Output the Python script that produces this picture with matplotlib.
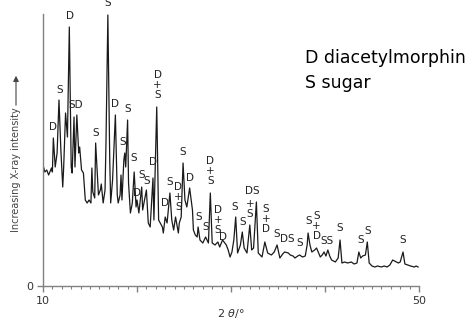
import matplotlib
matplotlib.use("Agg")
import matplotlib.pyplot as plt
from matplotlib.ticker import MultipleLocator, FixedLocator

# 衍射谱（2θ / 相对强度）
two_theta = [10.0, 10.2, 10.4, 10.6, 10.9, 11.0, 11.1, 11.3, 11.5, 11.7, 11.9, 12.1, 12.2, 12.4,
             12.6, 12.8, 13.0, 13.1, 13.3, 13.4, 13.6, 13.8, 13.9, 14.1, 14.3, 14.5, 14.7, 14.9,
             15.1, 15.2, 15.3, 15.5, 15.6, 15.9, 16.1, 16.2, 16.4, 16.6, 16.7, 16.9, 17.1, 17.2,
             17.4, 17.7, 17.9, 18.0, 18.2, 18.3, 18.4, 18.6, 18.7, 18.8, 19.0, 19.1, 19.3, 19.5,
             19.7, 19.9, 20.0, 20.2, 20.5, 20.6, 21.0, 21.2, 21.4, 21.7, 21.8, 22.1, 22.3, 22.7,
             22.8, 23.0, 23.2, 23.5, 23.7, 23.9, 24.1, 24.4, 24.5, 24.7, 24.9, 25.1, 25.3, 25.6,
             25.9, 26.0, 26.2, 26.4, 26.5, 26.7, 27.0, 27.3, 27.6, 27.8, 28.0, 28.3, 28.6, 28.8,
             29.1, 29.5, 29.7, 29.9, 30.1, 30.3, 30.5, 30.7, 31.0, 31.2, 31.4, 31.7, 32.0, 32.2,
             32.4, 32.7, 32.9, 33.1, 33.3, 33.6, 33.9, 34.3, 34.6, 34.9, 35.2, 35.5, 35.7, 36.1,
             36.3, 36.6, 36.8, 37.1, 37.3, 37.6, 37.9, 38.1, 38.2, 38.4, 38.6, 38.9, 39.1, 39.5,
             39.7, 39.9, 40.1, 40.3, 40.5, 40.7, 41.1, 41.4, 41.6, 41.8, 42.1, 42.4, 42.8, 43.1,
             43.4, 43.6, 43.8, 44.0, 44.3, 44.5, 44.7, 45.0, 45.3, 45.6, 46.0, 46.3, 46.6, 46.9,
             47.2, 47.6, 47.8, 48.0, 48.3, 48.5, 48.8, 49.1, 49.5, 49.7, 49.9]
intensity = [121, 114, 116, 111, 118, 114, 148, 119, 133, 186, 136, 99, 119, 173,
             149, 259, 119, 113, 169, 119, 171, 133, 139, 116, 113, 86, 83, 86,
             83, 118, 94, 88, 143, 91, 96, 102, 83, 96, 143, 271, 126, 83,
             106, 171, 91, 83, 91, 111, 86, 126, 133, 119, 166, 103, 73, 83,
             114, 79, 86, 73, 99, 76, 96, 63, 59, 108, 66, 179, 66, 59,
             53, 69, 63, 93, 66, 56, 69, 53, 63, 69, 123, 86, 79, 98,
             76, 56, 51, 49, 59, 46, 43, 49, 43, 93, 43, 41, 44, 39,
             46, 41, 36, 29, 34, 46, 69, 33, 41, 54, 38, 33, 61, 36,
             38, 84, 33, 31, 29, 44, 33, 31, 34, 41, 28, 32, 34, 33,
             31, 30, 28, 30, 31, 29, 30, 41, 53, 41, 34, 36, 38, 29,
             31, 34, 30, 36, 30, 26, 24, 28, 46, 23, 24, 23, 24, 22,
             23, 34, 28, 30, 31, 44, 23, 20, 19, 20, 19, 20, 19, 21,
             26, 24, 23, 24, 34, 22, 21, 20, 19, 20, 19]

# 峰标注 (D = diacetylmorphine, S = sugar)
peak_text = ["D", "S", "D", "SD", "S", "S", "D", "S", "S", "S", "D", "S", "S", "D",
             "D\n+\nS", "D", "S", "D\n+\nS", "S", "D", "S", "S", "D\n+\nS", "D\n+\nS", "D",
             "S", "S", "DS", "+\nS", "S\n+\nD", "S", "DS", "S", "S", "S\n+\nD", "SS", "S",
             "S", "S", "S"]
peak_x = [11.1, 11.8, 12.9, 13.5, 15.6, 16.9, 17.7, 19.0, 18.5, 19.6, 20.0, 20.5, 21.0, 21.7,
          22.2, 23.0, 23.5, 24.4, 24.9, 25.6, 26.6, 27.3, 27.8, 28.6, 29.1,
          30.4, 31.2, 32.3, 32.0, 33.7, 34.9, 36.0, 37.3, 38.3, 39.1, 40.2, 41.6,
          43.8, 44.5, 48.3]
peak_y = [159, 196, 270, 181, 153, 283, 182, 177, 144, 128, 93, 111, 105, 124,
          201, 83, 104, 89, 134, 108, 69, 59, 115, 66, 49,
          79, 64, 95, 77, 67, 52, 47, 43, 65, 60, 45, 58,
          46, 55, 46]

fig = plt.figure(figsize=(4.71, 3.20), dpi=100)
ax = fig.add_axes([43 / 471, 34 / 320, 376 / 471, 272 / 320])

ax.plot(two_theta, intensity, color="#1a1a1a", linewidth=0.9)

for t, x, y in zip(peak_text, peak_x, peak_y):
    ax.text(x, y, t, ha="center", va="center", fontsize=7.5, linespacing=1.05,
            color="#222222", family=["Liberation Sans Narrow", "DejaVu Sans"],
            clip_on=False)

ax.set_xlim(10, 50)
ax.set_ylim(0, 272)
for s in ["top", "right"]:
    ax.spines[s].set_visible(False)
for s in ["left", "bottom"]:
    ax.spines[s].set_color("#808080")
    ax.spines[s].set_linewidth(1.0)

ax.xaxis.set_major_locator(FixedLocator([10, 20, 30, 40, 50]))
ax.xaxis.set_minor_locator(MultipleLocator(1))
ax.set_xticklabels(["10", "", "", "", "50"])
ax.set_yticks([0])
ax.set_yticklabels(["0"])
ax.tick_params(axis="both", which="major", length=4, width=1, color="#808080",
               labelsize=8, labelcolor="#333333", pad=3)
ax.tick_params(axis="x", which="minor", length=2, width=0.8, color="#808080")

ax.set_xlabel("2 $\\mathit{\\theta}$/°", fontsize=8, color="#333333", labelpad=1)

# 纵轴说明 + 箭头
fig.text(16 / 471, 88 / 320, "Increasing X-ray intensity", rotation=90,
         ha="center", va="bottom", fontsize=7, color="#444444",
         family=["Liberation Sans Narrow", "DejaVu Sans"])
fig.add_artist(matplotlib.patches.FancyArrowPatch(
    (16 / 471, 212 / 320), (16 / 471, 247 / 320), transform=fig.transFigure,
    arrowstyle="-|>", mutation_scale=8, color="#444444", linewidth=0.8))

# 图例文字
fig.text(305 / 471, 257 / 320, "D diacetylmorphin", fontsize=12.5, color="black",
         ha="left", va="baseline")
fig.text(305 / 471, 232 / 320, "S sugar", fontsize=12.5, color="black",
         ha="left", va="baseline")

fig.savefig("out.png", dpi=100)
